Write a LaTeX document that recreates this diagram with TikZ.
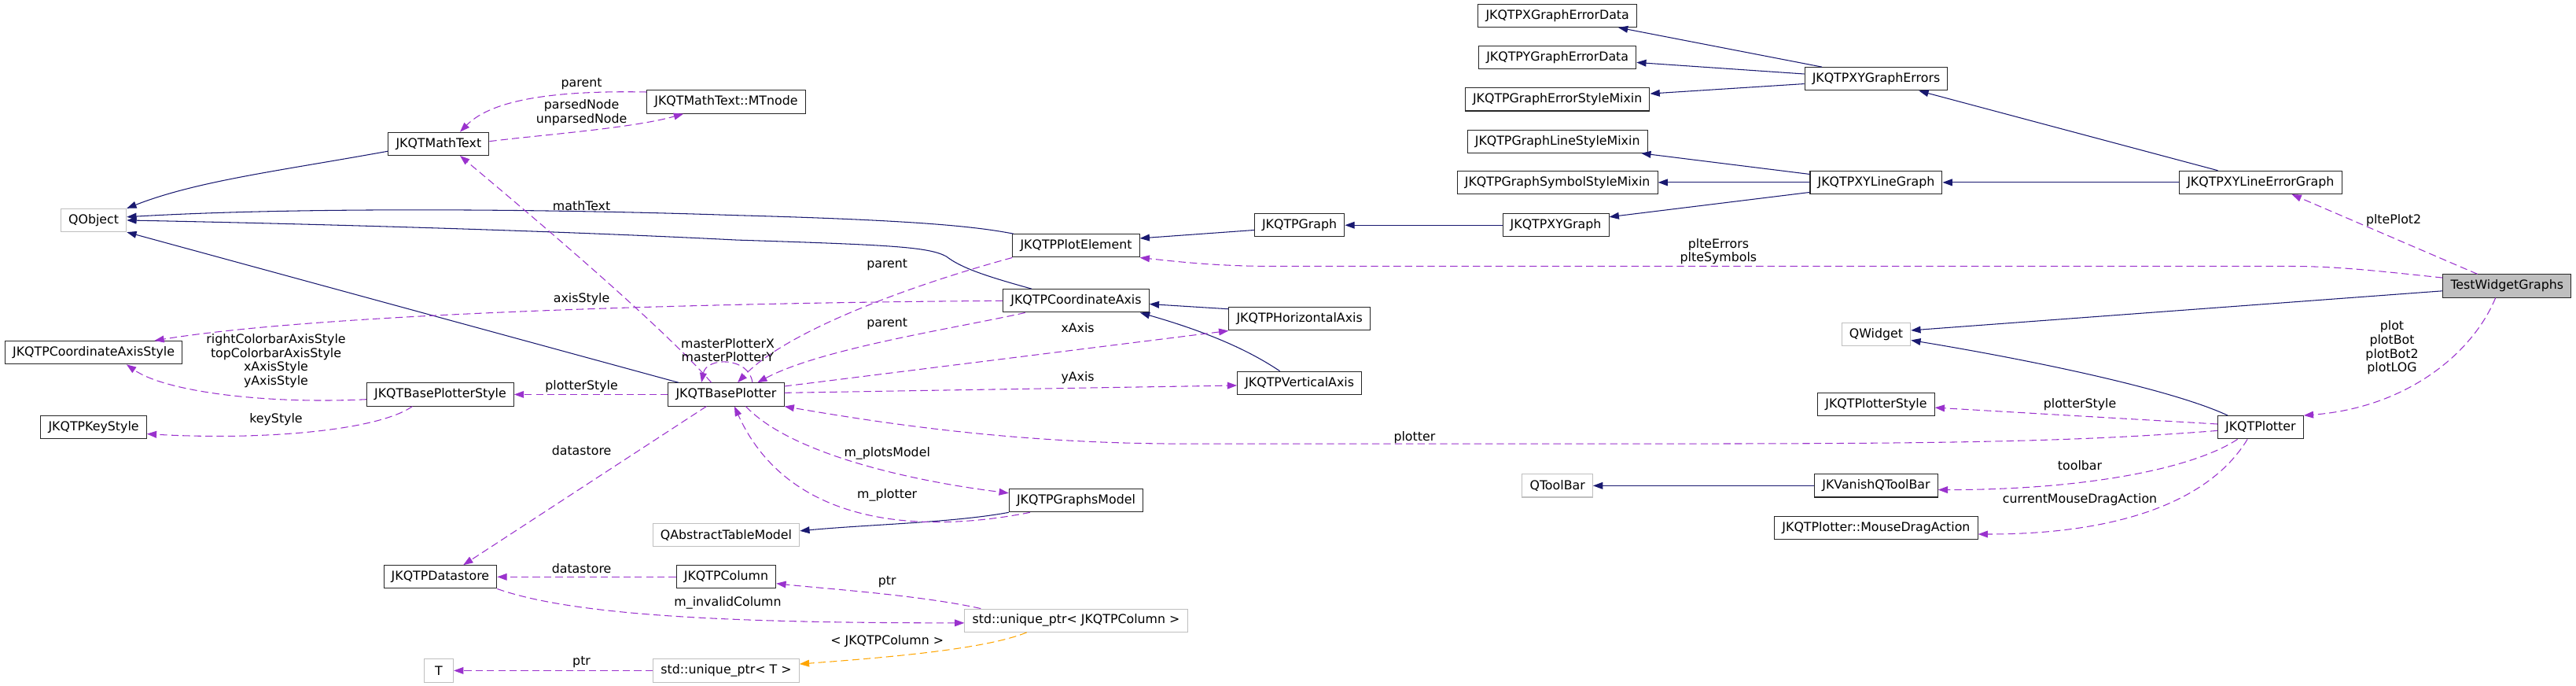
\documentclass[tikz,border=0pt]{standalone}
\usepackage{fontspec}
\setmainfont{DejaVu Sans}
\usetikzlibrary{arrows.meta}
\definecolor{edgenavy}{RGB}{25,25,112}
\definecolor{edgepurple}{RGB}{154,50,205}
\definecolor{edgeorange}{RGB}{255,165,0}
\definecolor{extgray}{RGB}{191,191,191}
\tikzset{
  >={Triangle[length=7pt, width=5pt]},
  cls/.style={draw=black!85, line width=0.6pt, fill=white, minimum height=0.585cm, inner xsep=5.5pt, inner ysep=0pt, font=\fontsize{9}{10}\selectfont},
  extcls/.style={cls, draw=extgray},
  maincls/.style={cls, fill=extgray},
  lbl/.style={inner sep=0pt, align=center, font=\fontsize{9}{10}\selectfont},
  inherit/.style={->, line width=0.6pt, edgenavy},
  member/.style={->, line width=0.6pt, edgepurple, dash pattern=on 5.3pt off 2.9pt},
  templ/.style={->, line width=0.6pt, edgeorange, dash pattern=on 5.3pt off 2.9pt}
}
\begin{document}
\begin{tikzpicture}[x=0.0418cm, y=-0.0418cm]
    \useasboundingbox (0,0) rectangle (1568,417);

    % classes
    \node (xerr) [cls] at (948,9.5) {JKQTPXGraphErrorData};
    \node (yerr) [cls] at (948,35) {JKQTPYGraphErrorData};
    \node (errmix) [cls] at (948,60.5) {JKQTPGraphErrorStyleMixin};
    \node (linemix) [cls] at (948,86) {JKQTPGraphLineStyleMixin};
    \node (symmix) [cls] at (948,111) {JKQTPGraphSymbolStyleMixin};
    \node (xygraph) [cls] at (947,137) {JKQTPXYGraph};
    \node (xyerrs) [cls] at (1142,48) {JKQTPXYGraphErrors};
    \node (xyline) [cls] at (1142,111) {JKQTPXYLineGraph};
    \node (xylineerr) [cls] at (1376,111) {JKQTPXYLineErrorGraph};
    \node (graph) [cls] at (791,137) {JKQTPGraph};
    \node (plotel) [cls] at (655,149.5) {JKQTPPlotElement};
    \node (qobject) [extcls] at (57,134) {QObject};
    \node (mtext) [cls] at (267,87.5) {JKQTMathText};
    \node (mtnode) [cls] at (442,62) {JKQTMathText::MTnode};
    \node (coordaxis) [cls] at (655,183) {JKQTPCoordinateAxis};
    \node (haxis) [cls] at (791,194) {JKQTPHorizontalAxis};
    \node (vaxis) [cls] at (791,233) {JKQTPVerticalAxis};
    \node (axisstyle) [cls] at (57,214.5) {JKQTPCoordinateAxisStyle};
    \node (bpstyle) [cls] at (268,240) {JKQTBasePlotterStyle};
    \node (bplotter) [cls] at (442,240) {JKQTBasePlotter};
    \node (keystyle) [cls] at (57,260) {JKQTPKeyStyle};
    \node (gmodel) [cls] at (655,304.5) {JKQTPGraphsModel};
    \node (qatm) [extcls] at (442,325.5) {QAbstractTableModel};
    \node (dstore) [cls] at (268,351) {JKQTPDatastore};
    \node (column) [cls] at (442,351) {JKQTPColumn};
    \node (uptrcol) [extcls] at (655,377.5) {std::unique\_ptr< JKQTPColumn >};
    \node (tnode) [extcls, minimum width=0.75cm] at (267,408) {T};
    \node (uptrt) [extcls] at (442,408) {std::unique\_ptr< T >};
    \node (twg) [maincls] at (1526,174) {TestWidgetGraphs};
    \node (qwidget) [extcls] at (1142,203.5) {QWidget};
    \node (pstyle) [cls] at (1142,246) {JKQTPlotterStyle};
    \node (plotter) [cls] at (1376,260) {JKQTPlotter};
    \node (qtoolbar) [extcls] at (948,295.5) {QToolBar};
    \node (vtoolbar) [cls] at (1142,295.5) {JKVanishQToolBar};
    \node (mdrag) [cls] at (1142,321) {JKQTPlotter::MouseDragAction};

    % inheritance
    \draw[inherit] (1109,0 |- xyerrs.north) -- (985,0 |- xerr.south);
    \draw[inherit] (xyerrs.west |- 0,45) -- (yerr.east |- 0,38);
    \draw[inherit] (xyerrs.west |- 0,51) -- (errmix.east |- 0,57);
    \draw[inherit] (1350,0 |- xylineerr.north) -- (1168,0 |- xyerrs.south);
    \draw[inherit] (xylineerr.west) -- (xyline.east);
    \draw[inherit] (xyline.west |- 0,106) -- (999,0 |- linemix.south);
    \draw[inherit] (xyline.west) -- (symmix.east);
    \draw[inherit] (xyline.west |- 0,117) -- (xygraph.east |- 0,132);
    \draw[inherit] (xygraph.west) -- (graph.east);
    \draw[inherit] (graph.west |- 0,140) -- (plotel.east |- 0,145);
    \draw[inherit] (617,0 |- plotel.north) .. controls (595,138) and (560,134) .. (448,131)
        .. controls (330,127) and (180,126) .. (qobject.east |- 0,132);
    \draw[inherit] (628,0 |- coordaxis.north) .. controls (600,168) and (585,163) .. (576,156)
        .. controls (565,150) and (540,149) .. (448,146)
        .. controls (330,140) and (180,136) .. (qobject.east |- 0,134);
    \draw[inherit] (mtext.west |- 0,92) .. controls (170,104) and (120,110) .. (qobject.north east);
    \draw[inherit] (413,0 |- bplotter.north) -- (qobject.south east);
    \draw[inherit] (haxis.west |- 0,188) -- (coordaxis.east |- 0,185);
    \draw[inherit] (779,0 |- vaxis.north) .. controls (760,213) and (735,202) .. (694,0 |- coordaxis.south);
    \draw[inherit] (gmodel.south west) .. controls (580,318) and (530,319) .. (qatm.east |- 0,323);
    \draw[inherit] (twg.west |- 0,177) -- (qwidget.east |- 0,201);
    \draw[inherit] (1356,0 |- plotter.north) .. controls (1320,236) and (1230,218) .. (qwidget.east |- 0,207);
    \draw[inherit] (vtoolbar.west) -- (qtoolbar.east);

    % members
    \draw[member] (mtext.east |- 0,86) .. controls (330,82) and (385,78) .. (416,0 |- mtnode.south);
    \draw[member] (mtnode.west |- 0,56) .. controls (340,55) and (300,60) .. (280,0 |- mtext.north);
    \draw[member] (433,0 |- bplotter.north) .. controls (400,195) and (310,120) .. (280,0 |- mtext.south);
    \draw[member] (458,0 |- bplotter.north) .. controls (456,217) and (430,217) .. (427,0 |- bplotter.north);
    \draw[member] (plotel.south west) .. controls (560,172) and (480,200) .. (449,0 |- bplotter.north);
    \draw[member] (624,0 |- coordaxis.south) .. controls (580,200) and (500,212) .. (461,0 |- bplotter.north);
    \draw[member] (coordaxis.west) .. controls (450,184) and (200,190) .. (94,0 |- axisstyle.north);
    \draw[member] (bpstyle.west |- 0,243) .. controls (160,246) and (100,238) .. (77,0 |- axisstyle.south);
    \draw[member] (bplotter.west) -- (bpstyle.east);
    \draw[member] (251,0 |- bpstyle.south) .. controls (230,262) and (160,268) .. (keystyle.east |- 0,264);
    \draw[member] (bplotter.east |- 0,235) -- (haxis.south west);
    \draw[member] (bplotter.east |- 0,239) -- (vaxis.west |- 0,234.5);
    \draw[member] (plotter.west |- 0,262) .. controls (1250,270) and (1150,270) .. (957,270) -- (721,270)
        .. controls (620,270) and (540,258) .. (bplotter.south east);
    \draw[member] (454,0 |- bplotter.south) .. controls (480,275) and (550,292) .. (gmodel.west |- 0,300);
    \draw[member] (627,0 |- gmodel.south) .. controls (560,325) and (480,320) .. (447,0 |- bplotter.south);
    \draw[member] (430,0 |- bplotter.south) -- (282,0 |- dstore.north);
    \draw[member] (column.west) -- (dstore.east);
    \draw[member] (dstore.south east) .. controls (350,375) and (450,379) .. (uptrcol.west |- 0,379);
    \draw[member] (597,0 |- uptrcol.north) .. controls (560,362) and (500,358) .. (column.east |- 0,355);
    \draw[member] (uptrt.west) -- (tnode.east);
    \draw[templ] (625,0 |- uptrcol.south) .. controls (600,395) and (540,400) .. (uptrt.east |- 0,404);
    \draw[member] (1508,0 |- twg.north) -- (1395,0 |- xylineerr.south);
    \draw[member] (twg.west |- 0,169) .. controls (1440,164) and (1420,162) .. (1393,162) -- (775,162)
        .. controls (740,162) and (715,159) .. (plotel.south east);
    \draw[member] (1519,0 |- twg.south) .. controls (1505,215) and (1465,248) .. (plotter.north east);
    \draw[member] (plotter.west |- 0,258) -- (pstyle.east |- 0,248);
    \draw[member] (1362,0 |- plotter.south) .. controls (1335,285) and (1270,298) .. (vtoolbar.east |- 0,298);
    \draw[member] (1368,0 |- plotter.south) .. controls (1345,305) and (1290,325) .. (mdrag.east |- 0,325);

    % edge labels
    \node (l-parent1) [lbl] at (354,51) {parent};
    \node (l-parsed) [lbl] at (354,68.5) {parsedNode\\unparsedNode};
    \node (l-mathtext) [lbl] at (354,125) {mathText};
    \node (l-axisstyle) [lbl] at (354,182) {axisStyle};
    \node (l-parent2) [lbl] at (540,161) {parent};
    \node (l-parent3) [lbl] at (540,197) {parent};
    \node (l-master) [lbl] at (443,213) {masterPlotterX\\masterPlotterY};
    \node (l-axisstyles) [lbl] at (168,219.5) {rightColorbarAxisStyle\\topColorbarAxisStyle\\xAxisStyle\\yAxisStyle};
    \node (l-pstyle1) [lbl] at (354,235) {plotterStyle};
    \node (l-keystyle) [lbl] at (168,255) {keyStyle};
    \node (l-xaxis) [lbl] at (656,199.5) {xAxis};
    \node (l-yaxis) [lbl] at (656,230) {yAxis};
    \node (l-plotter) [lbl] at (861,266) {plotter};
    \node (l-plotsmodel) [lbl] at (540,276) {m\_plotsModel};
    \node (l-mplotter) [lbl] at (540,301) {m\_plotter};
    \node (l-dstore1) [lbl] at (354,274) {datastore};
    \node (l-dstore2) [lbl] at (354,346) {datastore};
    \node (l-invalid) [lbl] at (443,367) {m\_invalidColumn};
    \node (l-ptr1) [lbl] at (540,354) {ptr};
    \node (l-ptr2) [lbl] at (354,403) {ptr};
    \node (l-tmpl) [lbl] at (540,390) {< JKQTPColumn >};
    \node (l-plteplot2) [lbl] at (1457,134) {pltePlot2};
    \node (l-plte) [lbl] at (1046,153) {plteErrors\\plteSymbols};
    \node (l-plots) [lbl] at (1456,211.5) {plot\\plotBot\\plotBot2\\plotLOG};
    \node (l-pstyle2) [lbl] at (1266,246) {plotterStyle};
    \node (l-toolbar) [lbl] at (1266,283) {toolbar};
    \node (l-mdrag) [lbl] at (1266,304) {currentMouseDragAction};
\end{tikzpicture}
\end{document}
